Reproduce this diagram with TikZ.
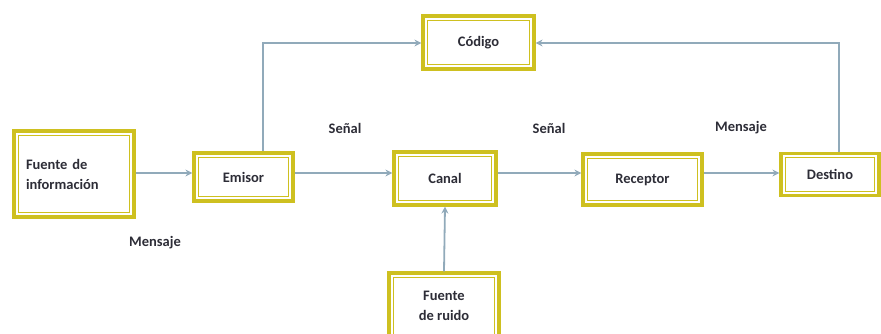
\documentclass[tikz,border=0pt]{standalone}
\usepackage{fontspec}
\setmainfont{Carlito}
\usetikzlibrary{arrows.meta}
\definecolor{ybox}{RGB}{206,192,32}
\definecolor{arr}{RGB}{145,170,186}
\definecolor{txt}{RGB}{45,45,55}
\tikzset{
  box/.style={draw=ybox, line width=3.2pt,
    fill=white, inner sep=0pt, font=\bfseries\fontsize{14.5}{17}\selectfont, text=txt,
    path picture={\draw[ybox, line width=1.2pt]
      ([shift={(4.2pt,-4.2pt)}]path picture bounding box.north west) rectangle
      ([shift={(-4.2pt,4.2pt)}]path picture bounding box.south east);}},
  conn/.style={draw=arr, line width=1.8pt, -{Stealth[length=7pt,width=7pt]}},
  lbl/.style={font=\bfseries\fontsize{14.5}{17}\selectfont, text=txt}
}
\begin{document}
\begin{tikzpicture}[x=1pt,y=-1pt]
\useasboundingbox (0,0) rectangle (881,334);
\node[box, minimum width=120pt, minimum height=86pt, text width=96pt, align=left] (fuente) at (74,174) {Fuente de\\[3pt]información};
\node[box, minimum width=99pt, minimum height=48pt] (emisor) at (243.5,177) {Emisor};
\node[box, minimum width=102pt, minimum height=53pt] (canal) at (445,178.5) {Canal};
\node[box, minimum width=119pt, minimum height=51pt] (receptor) at (642.5,179.5) {Receptor};
\node[box, minimum width=98pt, minimum height=42pt] (destino) at (830,174.5) {Destino};
\node[box, minimum width=111pt, minimum height=53pt] (codigo) at (478.5,42.5) {Código};
\node[box, minimum width=110pt, minimum height=66pt, align=center] (ruido) at (444,306) {Fuente\\[3pt]de ruido};
\coordinate (ly) at (0,173);
\coordinate (top) at (0,43);
\coordinate (ex) at (263,0);
\coordinate (dx) at (839,0);
\draw[conn] (fuente.east |- ly) -- (emisor.west |- ly);
\draw[conn] (emisor.east |- ly) -- (canal.west |- ly);
\draw[conn] (canal.east |- ly) -- (receptor.west |- ly);
\draw[conn] (receptor.east |- ly) -- (destino.west |- ly);
\draw[conn] (ruido.north) -- (canal.south);
\draw[conn] (ex |- emisor.north) -- (ex |- top) -- (codigo.west |- top);
\draw[conn] (dx |- destino.north) -- (dx |- top) -- (codigo.east |- top);
\node[lbl] (s1) at (345,128) {Señal};
\node[lbl] (s2) at (549,128) {Señal};
\node[lbl] (m1) at (741,128) {Mensaje};
\node[lbl] (m2) at (155,243) {Mensaje};
\end{tikzpicture}
\end{document}
